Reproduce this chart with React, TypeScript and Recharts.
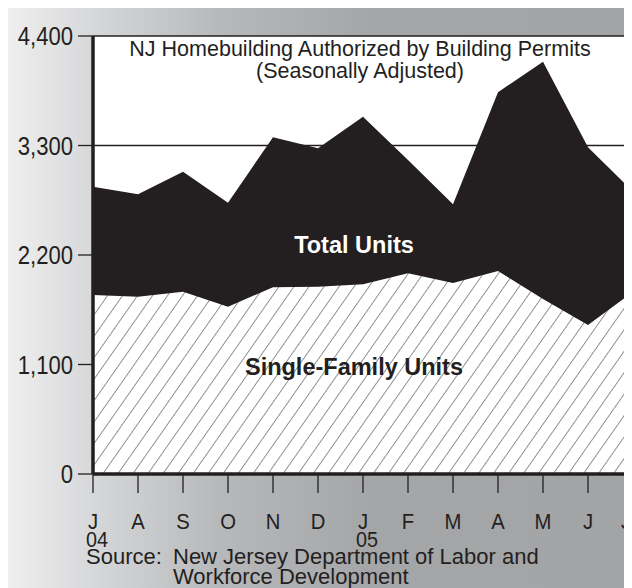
import React from "react";
import { AreaChart, Area, XAxis, YAxis, CartesianGrid } from "recharts";

// NJ homebuilding permits, July 2004 – July 2005 (seasonally adjusted)
const monthKeys = ["Jul04", "Aug04", "Sep04", "Oct04", "Nov04", "Dec04", "Jan05", "Feb05", "Mar05", "Apr05", "May05", "Jun05", "Jul05"];
const monthLabels = ["J", "A", "S", "O", "N", "D", "J", "F", "M", "A", "M", "J", "J"];
const yearLabels = ["04", "", "", "", "", "", "05", "", "", "", "", "", ""];
const totalUnits = [2886, 2810, 3037, 2726, 3383, 3272, 3589, 3154, 2709, 3835, 4142, 3282, 2836];
const singleFamily = [1798, 1781, 1831, 1681, 1876, 1882, 1906, 2016, 1919, 2039, 1758, 1497, 1831];
const yTicks = [0, 1100, 2200, 3300, 4400];

const data = monthKeys.map((key, i) => ({
  key,
  total: totalUnits[i],
  single: singleFamily[i],
}));

const INK = "#231f20";
const SANS = "'Liberation Sans', Arial, Helvetica, sans-serif";

function MonthTick(props: any) {
  const { x, y, payload } = props;
  const i = payload.index;
  // the last label sits a little inside the cropped right edge
  const lx = i === monthLabels.length - 1 ? x - 7 : x;
  return (
    <g>
      <text
        transform={`translate(${lx},${y + 34}) scale(0.9,1)`}
        textAnchor="middle"
        fontSize={22.5}
        fontFamily={SANS}
        fill={INK}
      >
        {monthLabels[i]}
      </text>
      {yearLabels[i] && (
        <text
          transform={`translate(${x + 4},${y + 52}) scale(0.9,1)`}
          textAnchor="middle"
          fontSize={22}
          fontFamily={SANS}
          fill={INK}
        >
          {yearLabels[i]}
        </text>
      )}
    </g>
  );
}

function ValueTick(props: any) {
  const { x, y, payload } = props;
  return (
    <text
      transform={`translate(${x},${y}) scale(0.85,1)`}
      textAnchor="end"
      dy="0.36em"
      fontSize={26}
      fontFamily={SANS}
      fill={INK}
    >
      {Number(payload.value).toLocaleString("en-US")}
    </text>
  );
}

export default function App() {
  return (
    <div
      style={{
        position: "relative",
        width: 624,
        height: 580,
        overflow: "hidden",
        background: "linear-gradient(90deg, #efefef 0%, #d6d7d9 14%, #b7b8ba 34%, #a5a6a8 58%, #a3a4a6 100%)",
      }}
    >
      <AreaChart width={640} height={580} data={data} margin={{ top: 28, right: 15, left: 0, bottom: 0 }}>
        <defs>
          <pattern id="hatch" patternUnits="userSpaceOnUse" width={12.3} height={20} patternTransform="rotate(35)">
            <rect width={12.3} height={20} fill="#ffffff" />
            <line x1={0} y1={0} x2={0} y2={20} stroke="#3a3a3a" strokeWidth={1.1} />
          </pattern>
        </defs>
        <CartesianGrid vertical={false} fill="#ffffff" stroke={INK} strokeWidth={1.5} />
        <XAxis
          dataKey="key"
          height={114}
          tickSize={19}
          interval={0}
          axisLine={{ stroke: INK, strokeWidth: 3.5 }}
          tickLine={{ stroke: INK, strokeWidth: 1.3 }}
          tick={<MonthTick />}
        />
        <YAxis
          width={85}
          domain={[0, 4400]}
          ticks={yTicks}
          tickSize={15}
          tickMargin={5}
          axisLine={{ stroke: INK, strokeWidth: 3.5 }}
          tickLine={{ stroke: INK, strokeWidth: 1.3 }}
          tick={<ValueTick />}
        />
        <Area type="linear" dataKey="total" stroke="none" fill={INK} fillOpacity={1} isAnimationActive={false} />
        <Area type="linear" dataKey="single" stroke="none" fill="url(#hatch)" fillOpacity={1} isAnimationActive={false} />
      </AreaChart>
      <svg width={624} height={580} style={{ position: "absolute", left: 0, top: 0, pointerEvents: "none" }}>
        <text x={352} y={48} textAnchor="middle" fontSize={21.5} fontFamily={SANS} fill={INK}>
          NJ Homebuilding Authorized by Building Permits
        </text>
        <text x={352} y={70} textAnchor="middle" fontSize={21.5} fontFamily={SANS} fill={INK}>
          (Seasonally Adjusted)
        </text>
        <text x={346} y={245} textAnchor="middle" fontSize={23.5} fontWeight="bold" fontFamily={SANS} fill="#ffffff">
          Total Units
        </text>
        <text x={346} y={367} textAnchor="middle" fontSize={23.5} fontWeight="bold" fontFamily={SANS} fill={INK}>
          Single-Family Units
        </text>
        <text x={78} y={556} fontSize={22} fontFamily={SANS} fill={INK}>
          Source:
        </text>
        <text x={165} y={556} fontSize={22} fontFamily={SANS} fill={INK}>
          New Jersey Department of Labor and
        </text>
        <text x={165} y={576} fontSize={22} fontFamily={SANS} fill={INK}>
          Workforce Development
        </text>
      </svg>
    </div>
  );
}
